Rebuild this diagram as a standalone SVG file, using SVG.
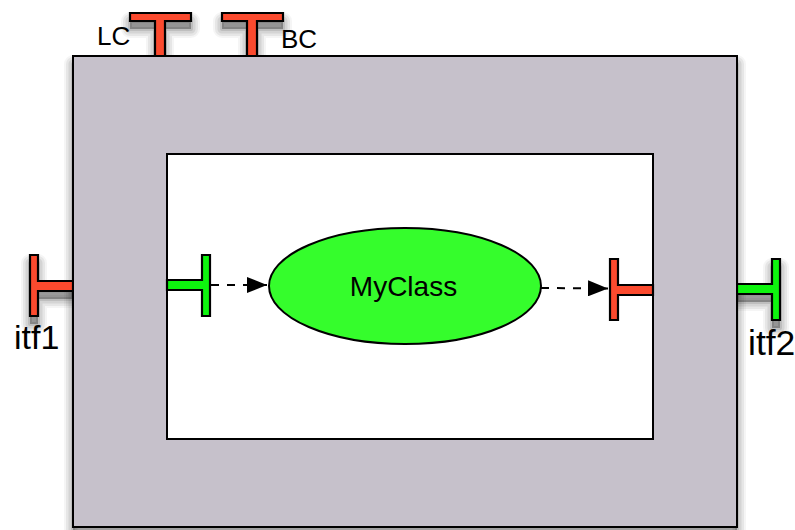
<svg xmlns="http://www.w3.org/2000/svg" width="795" height="530" viewBox="0 0 795 530">
<style>
.red{fill:#fb4a2e;stroke:#000;stroke-width:2.2;stroke-linejoin:miter}
.grn{fill:#0ef50e;stroke:#000;stroke-width:2.2;stroke-linejoin:miter}
.t{font-family:"Liberation Sans",Arial,sans-serif;fill:#000}
.dash{fill:none;stroke:#000;stroke-width:2;stroke-dasharray:8 8}
.sa,.sb,.sc,.sd{fill:#000;stroke:#000;stroke-linejoin:round;fill-opacity:0}
.sa{stroke-width:18;stroke-opacity:.04}
.sb{stroke-width:14;stroke-opacity:.06}
.sc{stroke-width:9;stroke-opacity:.08}
.sd{stroke-width:4;stroke-opacity:.1;fill-opacity:.3}
</style>
<defs>
<path id="lc" d="M130 13H191V21H165V56H155V21H130Z"/>
<path id="bc" d="M222 13H283V21H257V56H247V21H222Z"/>
<path id="i1" d="M30 255H38V281H73V291H38V316H30Z"/>
<path id="i2" d="M780 259H772V284H737V294H772V320H780Z"/>
<rect id="or" x="73" y="56" width="664" height="471"/>
<g id="shadowset">
<use href="#lc" class="sa"/><use href="#lc" class="sb"/><use href="#lc" class="sc"/><use href="#lc" class="sd"/>
<use href="#bc" class="sa"/><use href="#bc" class="sb"/><use href="#bc" class="sc"/><use href="#bc" class="sd"/>
<use href="#i1" class="sa"/><use href="#i1" class="sb"/><use href="#i1" class="sc"/><use href="#i1" class="sd"/>
<use href="#i2" class="sa"/><use href="#i2" class="sb"/><use href="#i2" class="sc"/><use href="#i2" class="sd"/>
<use href="#or" class="sa"/><use href="#or" class="sb"/><use href="#or" class="sc"/><use href="#or" class="sd"/>
</g>
<marker id="arr" viewBox="0 0 20 16" refX="20" refY="8" markerWidth="20" markerHeight="16" markerUnits="userSpaceOnUse" orient="auto">
<path d="M0 0L20 8L0 16Z" fill="#000"/>
</marker>
</defs>
<rect width="795" height="530" fill="#fff"/>
<g id="shadows" transform="translate(0 8)"><use href="#shadowset"/></g>
<g id="port-lc"><path class="red" d="M130 13H191V21H165V56H155V21H130Z"/></g>
<g id="port-bc"><path class="red" d="M222 13H283V21H257V56H247V21H222Z"/></g>
<g id="port-itf1"><path class="red" d="M30 255H38V281H73V291H38V316H30Z"/></g>
<g id="port-itf2"><path class="grn" d="M780 259H772V284H737V294H772V320H780Z"/></g>
<g id="outer"><rect x="73" y="56" width="664" height="471" fill="#c6c1cb" stroke="#000" stroke-width="2"/></g>
<g id="inner"><rect x="167" y="154" width="486" height="285" fill="#fff" stroke="#000" stroke-width="2"/></g>
<g id="port-in"><path class="grn" d="M210 255H202V280H167V290H202V316H210Z"/></g>
<g id="port-out"><path class="red" d="M610 259H618V285H653V295H618V320H610Z"/></g>
<g id="myclass">
<ellipse cx="405" cy="286" rx="136" ry="58" fill="#35fd2c" stroke="#000" stroke-width="2"/>
<text class="t" x="403.500" y="296" font-size="28" text-anchor="middle">MyClass</text>
</g>
<g id="connectors">
<path class="dash" d="M211 285H267" marker-end="url(#arr)"/>
<path class="dash" d="M541 288L608 288.500" marker-end="url(#arr)"/>
</g>
<g id="labels">
<text class="t" x="97" y="45" font-size="26">LC</text>
<text class="t" x="281" y="48" font-size="26">BC</text>
<text class="t" x="14" y="349" font-size="34">itf1</text>
<text class="t" x="748" y="355" font-size="35.500">itf2</text>
</g>
</svg>
